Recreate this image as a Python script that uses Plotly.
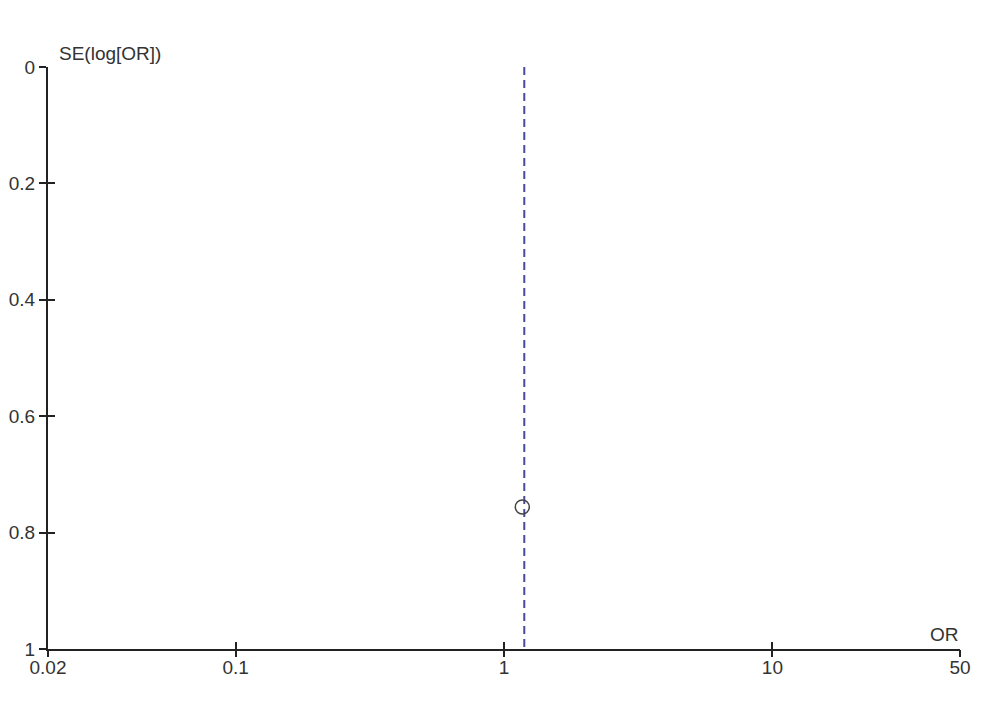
import math
import plotly.graph_objects as go

# Data
study_or = [1.17]
study_se = [0.756]
pooled_or = 1.19
se_range = [0.0, 1.0]

x_tickvals = [0.02, 0.1, 1, 10, 50]
x_ticktext = ["0.02", "0.1", "1", "10", "50"]
y_tickvals = [0, 0.2, 0.4, 0.6, 0.8, 1]
y_ticktext = ["0", "0.2", "0.4", "0.6", "0.8", "1"]

FONT = dict(family="Liberation Sans, Arial, sans-serif", size=19, color="#333333")
AX = "#222222"

fig = go.Figure()

fig.add_trace(go.Scatter(
    x=[pooled_or, pooled_or], y=se_range, mode="lines",
    line=dict(color="#4a4a9c", width=2, dash="8px,5px"),
    hoverinfo="skip", showlegend=False))

fig.add_trace(go.Scatter(
    x=study_or, y=study_se, mode="markers",
    marker=dict(symbol="circle-open", size=14, color="#444444", line=dict(width=1.5, color="#444444")),
    showlegend=False))

# invisible traces to anchor overlay axes (for crossing ticks)
fig.add_trace(go.Scatter(
    x=study_or, y=study_se, mode="markers", xaxis="x2", yaxis="y2",
    marker=dict(opacity=0), hoverinfo="skip", showlegend=False))
fig.add_trace(go.Scatter(
    x=study_or, y=study_se, mode="markers", xaxis="x3", yaxis="y2",
    marker=dict(opacity=0), hoverinfo="skip", showlegend=False))

xr = [math.log10(0.02), math.log10(50)]
yr = [1, 0]

tick_common = dict(showticklabels=False, showgrid=False, zeroline=False, showline=False,
                   ticklen=7, tickwidth=2, tickcolor=AX)

fig.update_layout(
    width=987, height=725,
    margin=dict(l=40, r=35, t=59, b=84, autoexpand=False),
    paper_bgcolor="white", plot_bgcolor="white",
    font=FONT,
    xaxis=dict(type="log", range=xr, tickvals=x_tickvals, ticktext=x_ticktext,
               showgrid=False, zeroline=False, showline=True, linecolor=AX, linewidth=2,
               ticks="", tickfont=FONT),
    yaxis=dict(range=yr, tickvals=y_tickvals, ticktext=y_ticktext,
               showgrid=False, zeroline=False, showline=True, linecolor=AX, linewidth=2,
               ticks="outside", ticklen=7, tickwidth=2, tickcolor=AX, tickfont=FONT),
    xaxis2=dict(type="log", range=xr, overlaying="x", tickvals=x_tickvals,
                ticks="inside", **tick_common),
    xaxis3=dict(type="log", range=xr, overlaying="x", tickvals=x_tickvals,
                ticks="outside", **tick_common),
    yaxis2=dict(range=yr, overlaying="y", tickvals=y_tickvals,
                ticks="inside", **tick_common),
    annotations=[
        dict(text="SE(log[OR])", xref="paper", yref="paper", x=0.01, y=1.024,
             xanchor="left", yanchor="middle", showarrow=False, font=FONT),
        dict(text="OR", xref="paper", yref="paper", x=1.001, y=0.025,
             xanchor="right", yanchor="middle", showarrow=False, font=FONT),
    ],
)

fig.write_html("out.html")
